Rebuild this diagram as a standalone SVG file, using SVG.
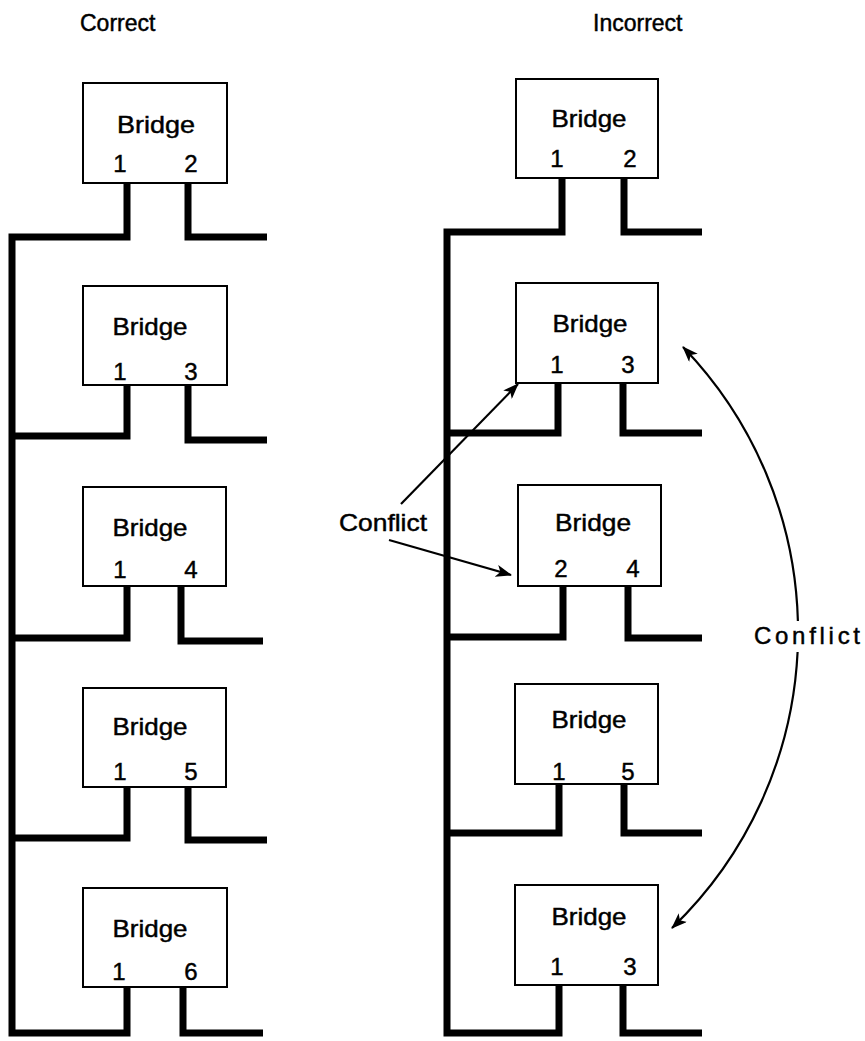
<svg xmlns="http://www.w3.org/2000/svg" width="865" height="1041" viewBox="0 0 865 1041">
  <style>
    .box { fill: #fff; stroke: #000; stroke-width: 2; }
    .cable { fill: none; stroke: #000; stroke-width: 7; stroke-linejoin: miter; stroke-linecap: butt; }
    .arrow { fill: none; stroke: #000; stroke-width: 2.2; }
    text { font-family: "Liberation Sans", Arial, sans-serif; fill: #000; stroke: #000; stroke-width: 0.45; }
    .title { font-size: 23px; }
    .name { font-size: 24px; text-anchor: middle; }
    .port { font-size: 24px; text-anchor: middle; }
    .label { font-size: 24px; }
  </style>
  <defs>
    <marker id="head" viewBox="0 0 16 12" refX="15" refY="6" markerWidth="16" markerHeight="12" markerUnits="userSpaceOnUse" orient="auto-start-reverse">
      <path d="M0,0 L16,6 L0,12 L4,6 Z" fill="#000"/>
    </marker>
  </defs>

  <!-- column headings -->
  <text class="title" x="80" y="31">Correct</text>
  <text class="title" x="593" y="31">Incorrect</text>

  <!-- LAN segments (cables) -->
  <g id="connectors">
    <!-- correct configuration: shared trunk on the left -->
    <path class="cable" d="M127,183 V237 H12 V1033 H127 V987"/>
    <path class="cable" d="M188,183 V237 H267"/>
    <path class="cable" d="M12,436 H127 V385"/>
    <path class="cable" d="M188,385 V440 H267"/>
    <path class="cable" d="M12,638 H127 V586"/>
    <path class="cable" d="M181,586 V641 H263"/>
    <path class="cable" d="M12,838 H127 V787"/>
    <path class="cable" d="M188,787 V840 H267"/>
    <path class="cable" d="M183,987 V1033 H263"/>

    <!-- incorrect configuration -->
    <path class="cable" d="M562,178 V232 H447 V1033 H559 V985"/>
    <path class="cable" d="M624,178 V232 H702"/>
    <path class="cable" d="M447,433 H558 V383"/>
    <path class="cable" d="M623,383 V433 H702"/>
    <path class="cable" d="M447,637 H563 V586"/>
    <path class="cable" d="M628,586 V638 H702"/>
    <path class="cable" d="M447,833 H559 V784"/>
    <path class="cable" d="M624,784 V833 H702"/>
    <path class="cable" d="M623,985 V1033 H702"/>

    <!-- conflict arrows -->
    <path class="arrow" d="M401,504 L518,384" marker-end="url(#head)"/>
    <path class="arrow" d="M389,540 L511,575" marker-end="url(#head)"/>
    <path class="arrow" d="M683,347 A411,411 0 0,1 797.9,621" marker-start="url(#head)"/>
    <path class="arrow" d="M797.6,652 A411,411 0 0,1 672,928" marker-end="url(#head)"/>
  </g>

  <!-- correct column bridges -->
  <g id="c-bridge-1">
    <rect class="box" x="83" y="83" width="144" height="100"/>
    <text class="name" x="156" y="133" textLength="78" lengthAdjust="spacingAndGlyphs">Bridge</text>
    <text class="port" x="120" y="172">1</text>
    <text class="port" x="191" y="172">2</text>
  </g>
  <g id="c-bridge-2">
    <rect class="box" x="83" y="286" width="144" height="99"/>
    <text class="name" x="150" y="335" textLength="75" lengthAdjust="spacingAndGlyphs">Bridge</text>
    <text class="port" x="120" y="380">1</text>
    <text class="port" x="191" y="380">3</text>
  </g>
  <g id="c-bridge-3">
    <rect class="box" x="83" y="487" width="143" height="99"/>
    <text class="name" x="150" y="536" textLength="75" lengthAdjust="spacingAndGlyphs">Bridge</text>
    <text class="port" x="120" y="578">1</text>
    <text class="port" x="191" y="578">4</text>
  </g>
  <g id="c-bridge-4">
    <rect class="box" x="83" y="688" width="143" height="99"/>
    <text class="name" x="150" y="735" textLength="75" lengthAdjust="spacingAndGlyphs">Bridge</text>
    <text class="port" x="120" y="780">1</text>
    <text class="port" x="191" y="780">5</text>
  </g>
  <g id="c-bridge-5">
    <rect class="box" x="83" y="888" width="144" height="99"/>
    <text class="name" x="150" y="937" textLength="75" lengthAdjust="spacingAndGlyphs">Bridge</text>
    <text class="port" x="119" y="980">1</text>
    <text class="port" x="191" y="980">6</text>
  </g>

  <!-- incorrect column bridges -->
  <g id="i-bridge-1">
    <rect class="box" x="516" y="79" width="142" height="99"/>
    <text class="name" x="589" y="127" textLength="75" lengthAdjust="spacingAndGlyphs">Bridge</text>
    <text class="port" x="557" y="167">1</text>
    <text class="port" x="630" y="167">2</text>
  </g>
  <g id="i-bridge-2">
    <rect class="box" x="516" y="283" width="142" height="100"/>
    <text class="name" x="590" y="332" textLength="75" lengthAdjust="spacingAndGlyphs">Bridge</text>
    <text class="port" x="557" y="373">1</text>
    <text class="port" x="628" y="373">3</text>
  </g>
  <g id="i-bridge-3">
    <rect class="box" x="518" y="485" width="143" height="101"/>
    <text class="name" x="593" y="531" textLength="76" lengthAdjust="spacingAndGlyphs">Bridge</text>
    <text class="port" x="561" y="577">2</text>
    <text class="port" x="633" y="577">4</text>
  </g>
  <g id="i-bridge-4">
    <rect class="box" x="515" y="684" width="143" height="100"/>
    <text class="name" x="589" y="728" textLength="75" lengthAdjust="spacingAndGlyphs">Bridge</text>
    <text class="port" x="559" y="780">1</text>
    <text class="port" x="628" y="780">5</text>
  </g>
  <g id="i-bridge-5">
    <rect class="box" x="515" y="885" width="143" height="100"/>
    <text class="name" x="589" y="925" textLength="75" lengthAdjust="spacingAndGlyphs">Bridge</text>
    <text class="port" x="557" y="975">1</text>
    <text class="port" x="630" y="975">3</text>
  </g>

  <!-- conflict labels -->
  <g id="conflict-left">
    <text class="label" x="339" y="531" textLength="88" lengthAdjust="spacingAndGlyphs">Conflict</text>
  </g>
  <g id="conflict-right">
    <text class="label" x="754" y="644" textLength="106" lengthAdjust="spacing">Conflict</text>
  </g>
</svg>
